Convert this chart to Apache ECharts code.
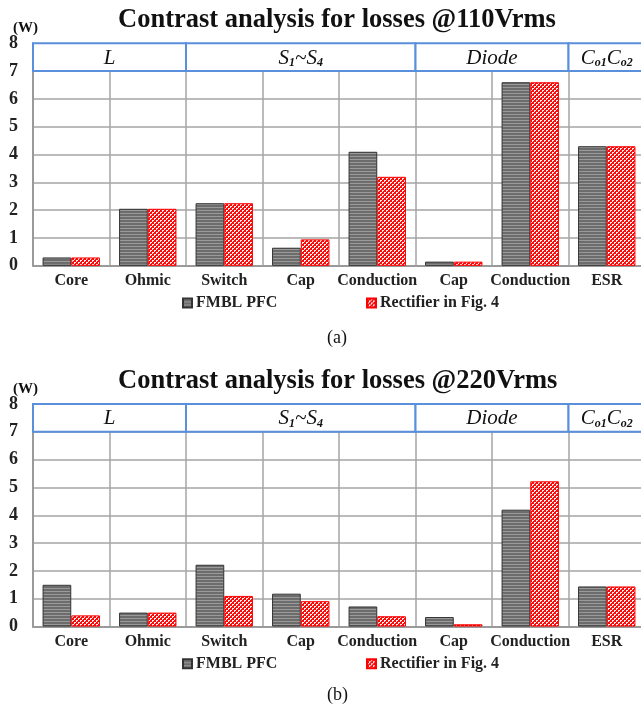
<!DOCTYPE html>
<html><head><meta charset="utf-8">
<script src="https://cdn.jsdelivr.net/npm/echarts@6/dist/echarts.min.js"></script>
<style>html,body{margin:0;padding:0;background:#fff}#c{width:641px;height:709px}</style>
</head><body><div id="c"></div>
<script>
const categories = ['Core','Ohmic','Switch','Cap','Conduction','Cap','Conduction','ESR'];
const seriesNames = ['FMBL PFC','Rectifier in Fig. 4'];
const titles = ['Contrast analysis for losses @110Vrms','Contrast analysis for losses @220Vrms'];
const panelTags = ['(a)','(b)'];
const unitLabel = '(W)';
const fmbl110 = [0.3, 2.05, 2.25, 0.65, 4.1, 0.15, 6.6, 4.3];
const rect110 = [0.3, 2.05, 2.25, 0.95, 3.2, 0.15, 6.6, 4.3];
const fmbl220 = [1.5, 0.5, 2.22, 1.18, 0.72, 0.34, 4.2, 1.44];
const rect220 = [0.4, 0.5, 1.1, 0.91, 0.37, 0.08, 5.22, 1.44];
const groupLabels = ['{i|L}','{i|S}{s|1}{i|~S}{s|4}','{i|Diode}','{i|C}{s|o1}{i|C}{s|o2}'];
const groupStart = [0, 2, 5, 7];
const groupEnd = [1, 4, 6, 7];
const yTicks = [0,1,2,3,4,5,6,7,8];

const SERIF = '"Liberation Serif","DejaVu Serif",serif';

function stripePattern(){
  const c = document.createElement('canvas'); c.width = 4; c.height = 3;
  const g = c.getContext('2d');
  g.fillStyle = '#6c6c6c'; g.fillRect(0,0,4,3);
  g.fillStyle = '#9a9a9a'; g.fillRect(0,0,4,1);
  return {image: c, repeat: 'repeat'};
}
function dotPattern(){
  const c = document.createElement('canvas'); c.width = 4; c.height = 4;
  const g = c.getContext('2d');
  g.fillStyle = '#ff0a0a'; g.fillRect(0,0,4,4);
  g.fillStyle = '#fff0f0';
  g.fillRect(0,0,2,1); g.fillRect(0,1,1,1);
  g.fillRect(2,2,2,1); g.fillRect(2,3,1,1);
  return {image: c, repeat: 'repeat'};
}
const patA = stripePattern();
const patB = dotPattern();

const chart = echarts.init(document.getElementById('c'), null, {renderer:'canvas'});

const gridTops = [43.3, 404];
const gridH = 222.5;
const offs = [0, 360.7];

const headerData = groupLabels.map((l,i)=>[groupStart[i], groupEnd[i], i]);

function headerRender(params, api){
  const s = api.value(0), e = api.value(1), idx = api.value(2);
  const p0 = api.coord([s, 8]);
  const p1 = api.coord([e, 7]);
  const bw = api.size([1, 0])[0];
  const x0 = p0[0] - bw/2, x1 = p1[0] + bw/2, y0 = p0[1], y1 = p1[1];
  return {
    type: 'group',
    children: [
      {type:'rect', shape:{x:x0, y:y0, width:x1-x0, height:y1-y0},
       style:{fill:'#ffffff', stroke:'#5a8fdc', lineWidth:2}},
      {type:'text', style:{
        text: groupLabels[idx], x:(x0+x1)/2, y:(y0+y1)/2+1, align:'center', verticalAlign:'middle',
        rich:{
          i:{fontFamily:SERIF, fontStyle:'italic', fontSize:21, fill:'#111'},
          s:{fontFamily:SERIF, fontStyle:'italic', fontWeight:'bold', fontSize:12, fill:'#111', verticalAlign:'bottom', padding:[8,0,0,0]}
        }
      }}
    ]
  };
}

const option = {
  backgroundColor:'#fff',
  animation:false,
  title: [0,1].map(k=>({text: titles[k], left: 113, top: 2 + offs[k],
      textStyle:{fontFamily:SERIF, fontWeight:'bold', fontSize:26.5, color:'#111'}}))
    .concat([0,1].map(k=>({text: unitLabel, left: 8, top: 16 + offs[k],
      textStyle:{fontFamily:SERIF, fontWeight:'bold', fontSize:15, color:'#111'}})))
    .concat([0,1].map(k=>({text: panelTags[k], left: 322, top: 324 + offs[k]*0.99,
      textStyle:{fontFamily:SERIF, fontWeight:'normal', fontSize:18, color:'#111'}}))),
  legend: [0,1].map(k=>[0,1].map(j=>({
      data:[seriesNames[j]], left: j===0 ? 177 : 361, top: 290 + offs[k],
      itemWidth: 9, itemHeight: 9, itemGap: 4, icon:'rect',
      textStyle:{fontFamily:SERIF, fontWeight:'bold', fontSize:16, color:'#222', padding:[0,0,0,-1]}
    }))).flat(),
  grid: gridTops.map(t=>({left:33, top:t, width:612, height:gridH, containLabel:false, outerBoundsMode:'none'})),
  xAxis: [0,1].map(k=>({
    type:'category', gridIndex:k, data:categories,
    axisLine:{show:true, lineStyle:{color:'#9a9a9a', width:2}},
    axisTick:{show:false},
    axisLabel:{interval:0, margin:7, fontFamily:SERIF, fontWeight:'bold', fontSize:16, color:'#222'},
    splitLine:{show:true, interval:0, lineStyle:{color:'#a4a4a4', width:1.5}}
  })),
  yAxis: [0,1].map(k=>({
    type:'value', gridIndex:k, min:0, max:8, interval:1,
    axisLine:{show:true, lineStyle:{color:'#9a9a9a', width:2}},
    axisTick:{show:false},
    axisLabel:{margin:15, fontFamily:SERIF, fontWeight:'bold', fontSize:18, color:'#222',
      formatter: v => String(yTicks[v])},
    splitLine:{show:true, lineStyle:{color:'#a4a4a4', width:1.5}}
  })),
  series: [
    {name:seriesNames[0], type:'bar', xAxisIndex:0, yAxisIndex:0, data:fmbl110, barGap:'0%', barCategoryGap:'25%',
      itemStyle:{color:patA, borderColor:'#333333', borderWidth:1}},
    {name:seriesNames[1], type:'bar', xAxisIndex:0, yAxisIndex:0, data:rect110, barGap:'0%', barCategoryGap:'25%',
      itemStyle:{color:patB, borderColor:'#ff0000', borderWidth:1}},
    {name:seriesNames[0], type:'bar', xAxisIndex:1, yAxisIndex:1, data:fmbl220, barGap:'0%', barCategoryGap:'25%',
      itemStyle:{color:patA, borderColor:'#333333', borderWidth:1}},
    {name:seriesNames[1], type:'bar', xAxisIndex:1, yAxisIndex:1, data:rect220, barGap:'0%', barCategoryGap:'25%',
      itemStyle:{color:patB, borderColor:'#ff0000', borderWidth:1}},
    {type:'custom', xAxisIndex:0, yAxisIndex:0, data:headerData, renderItem:headerRender, z:5, silent:true,
      encode:{x:[0,1]}},
    {type:'custom', xAxisIndex:1, yAxisIndex:1, data:headerData, renderItem:headerRender, z:5, silent:true,
      encode:{x:[0,1]}}
  ]
};
chart.setOption(option);
</script></body></html>
